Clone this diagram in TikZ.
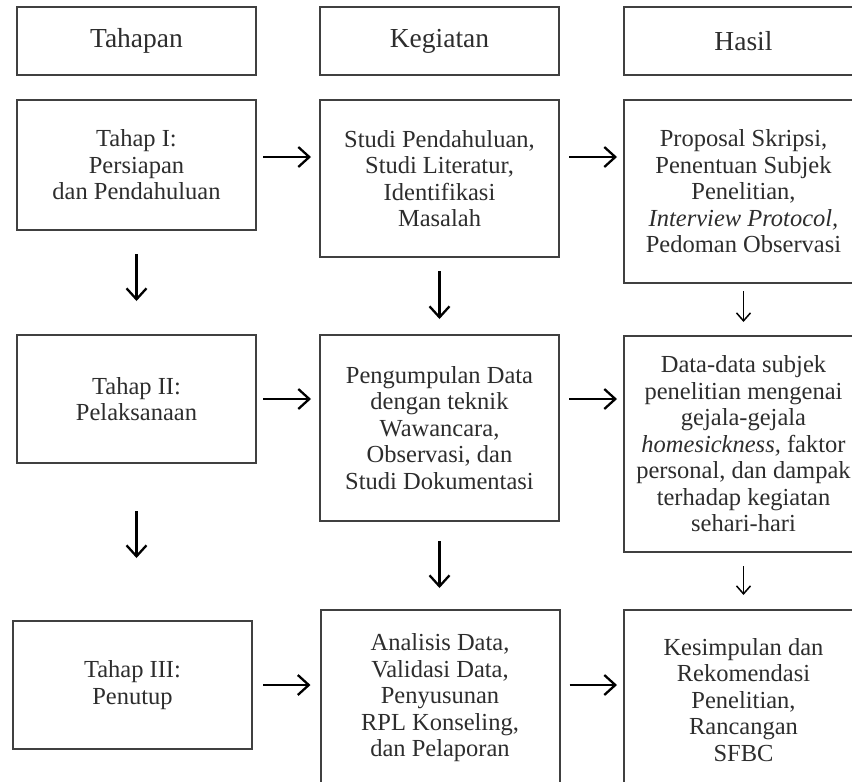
\documentclass[tikz,border=0pt]{standalone}
\usepackage{fontspec}
\setmainfont{Liberation Serif}
\usetikzlibrary{arrows.meta}
\definecolor{boxc}{RGB}{64,64,64}
\definecolor{txtc}{RGB}{45,45,45}
\begin{document}
\begin{tikzpicture}[x=1pt,y=-1pt,
  box/.style={draw=boxc, line width=2pt, text=txtc, align=center, inner sep=0pt,
    minimum width=239pt, font=\fontsize{24.5}{26.5}\selectfont},
  headbox/.style={box, minimum height=68pt, font=\fontsize{27.5}{30}\selectfont},
  arr/.style={line width=2.3pt, -{Straight Barb[length=11pt,width=20pt]}},
  arrs/.style={line width=1.5pt, -{Straight Barb[length=8pt,width=14pt]}}]
\useasboundingbox (0,0) rectangle (852,782);
\clip (0,0) rectangle (852,782);

% headers
\node[headbox] (h1) at (136.5,41) {Tahapan};
\node[headbox] (h2) at (439.5,41) {Kegiatan};
\node[headbox] (h3) at (743.5,41) {Hasil};

% row 1
\node[box, minimum height=130pt] (t1) at (136.5,165) {Tahap I:\\Persiapan\\dan Pendahuluan};
\node[box, minimum height=157pt] (k1) at (439.5,178.5) {Studi Pendahuluan,\\Studi Literatur,\\Identifikasi\\Masalah};
\node[box, minimum height=183pt] (r1) at (743.5,191.5) {Proposal Skripsi,\\Penentuan Subjek\\Penelitian,\\\textit{Interview Protocol,}\\Pedoman Observasi};

% row 2
\node[box, minimum height=128pt] (t2) at (136.5,399) {Tahap II:\\Pelaksanaan};
\node[box, minimum height=186pt] (k2) at (439.5,428) {Pengumpulan Data\\dengan teknik\\Wawancara,\\Observasi, dan\\Studi Dokumentasi};
\node[box, minimum height=216pt] (r2) at (743.5,444) {Data-data subjek\\penelitian mengenai\\gejala-gejala\\\textit{homesickness,} faktor\\personal, dan dampak\\terhadap kegiatan\\sehari-hari};

% row 3
\node[box, minimum height=128pt] (t3) at (132.5,685) {Tahap III:\\Penutup};
\node[box, minimum height=176pt] (k3) at (440,698) {Analisis Data,\\Validasi Data,\\Penyusunan\\RPL Konseling,\\dan Pelaporan};
\node[box, minimum height=180pt] (r3) at (743.5,700) {Kesimpulan dan\\Rekomendasi\\Penelitian,\\Rancangan\\SFBC};

% row levels of horizontal arrows
\coordinate (y1) at (0,157);
\coordinate (y2) at (0,399);
\coordinate (y3) at (0,685);

\draw[arr, shorten <=6pt, shorten >=8pt] (t1.east |- y1) -- (k1.west |- y1);
\draw[arr, shorten <=9pt, shorten >=6pt] (k1.east |- y1) -- (r1.west |- y1);
\draw[arr, shorten <=6pt, shorten >=8pt] (t2.east |- y2) -- (k2.west |- y2);
\draw[arr, shorten <=9pt, shorten >=6pt] (k2.east |- y2) -- (r2.west |- y2);
\draw[arr, shorten <=10pt, shorten >=9pt] (t3.east |- y3) -- (k3.west |- y3);
\draw[arr, shorten <=9pt, shorten >=6pt] (k3.east |- y3) -- (r3.west |- y3);

% vertical arrows
\draw[arr, shorten <=23pt, shorten >=33pt] (t1.south) -- (t2.north);
\draw[arr, shorten <=47pt, shorten >=62pt] (t2.south) -- (t2.south |- t3.north);
\draw[arr, shorten <=13pt, shorten >=15pt] (k1.south) -- (k2.north);
\draw[arr, shorten <=19pt, shorten >=21pt] (k2.south) -- (k2.south |- k3.north);
\draw[arrs, shorten <=7pt, shorten >=13pt] (r1.south) -- (r2.north);
\draw[arrs, shorten <=13pt, shorten >=14pt] (r2.south) -- (r3.north);
\end{tikzpicture}
\end{document}
